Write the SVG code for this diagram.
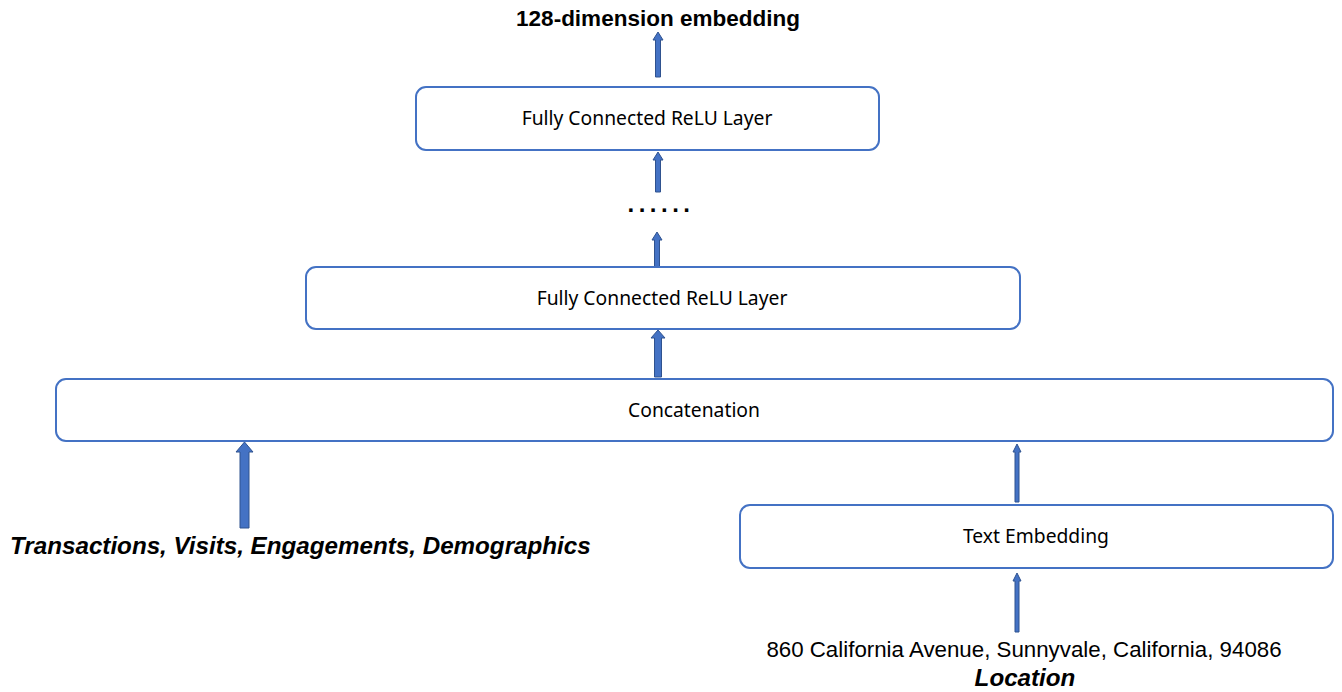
<svg xmlns="http://www.w3.org/2000/svg" width="1342" height="692" viewBox="0 0 1342 692">
<style>
.box{fill:#fff;stroke:#4472C4;stroke-width:2}
.lbl{font-family:"Noto Sans","Open Sans",sans-serif;font-size:19.3px;fill:#000;text-anchor:middle}
.arr{fill:#4472C4;stroke:#2F528F;stroke-width:1}
.bi{font-family:"Liberation Sans",Arial,sans-serif;font-weight:bold;font-style:italic;font-size:24.2px;fill:#000}
</style>
<rect width="1342" height="692" fill="#fff"/>
<g id="connectors">
<path class="arr" d="M655.5,77 L655.5,40 L653,40 L658,32 L663,40 L660.5,40 L660.5,77 Z"/>
<path class="arr" d="M655.5,192 L655.5,160 L653,160 L658,152 L663,160 L660.5,160 L660.5,192 Z"/>
<path class="arr" d="M654.5,269 L654.5,240 L652,240 L657,232 L662,240 L659.5,240 L659.5,269 Z"/>
<path class="arr" d="M654.5,377 L654.5,338 L651,338 L658,330 L665,338 L661.5,338 L661.5,377 Z"/>
<path class="arr" d="M240,528 L240,452 L236,452 L244.5,442 L253,452 L249,452 L249,528 Z"/>
<path class="arr" d="M1015,502 L1015,452 L1013,452 L1017,444 L1021,452 L1019,452 L1019,502 Z"/>
<path class="arr" d="M1015,632 L1015,581 L1013,581 L1017,573 L1021,581 L1019,581 L1019,632 Z"/>
</g>
<g id="out-label"><text x="658" y="26" font-family="Liberation Sans,Arial,sans-serif" font-weight="bold" font-size="22.5" text-anchor="middle">128-dimension embedding</text></g>
<g id="fc-top"><rect class="box" x="416" y="87" width="463" height="63" rx="10"/><text class="lbl" x="647" y="125">Fully Connected ReLU Layer</text></g>
<g id="dots"><text x="661" y="212" font-family="Liberation Sans,Arial,sans-serif" font-weight="bold" font-size="24" text-anchor="middle" letter-spacing="4.5">......</text></g>
<g id="fc-mid"><rect class="box" x="306" y="267" width="714" height="62" rx="10"/><text class="lbl" x="662" y="305">Fully Connected ReLU Layer</text></g>
<g id="concat"><rect class="box" x="56" y="379" width="1277" height="62" rx="10"/><text class="lbl" x="694" y="417">Concatenation</text></g>
<g id="text-emb"><rect class="box" x="740" y="505" width="593" height="63" rx="10"/><text class="lbl" x="1036" y="543">Text Embedding</text></g>
<g id="features"><text class="bi" x="10" y="554">Transactions, Visits, Engagements, Demographics</text></g>
<g id="location"><text x="1024" y="657" font-family="Liberation Sans,Arial,sans-serif" font-size="22.3" text-anchor="middle">860 California Avenue, Sunnyvale, California, 94086</text><text class="bi" x="1025" y="686" text-anchor="middle">Location</text></g>
</svg>
